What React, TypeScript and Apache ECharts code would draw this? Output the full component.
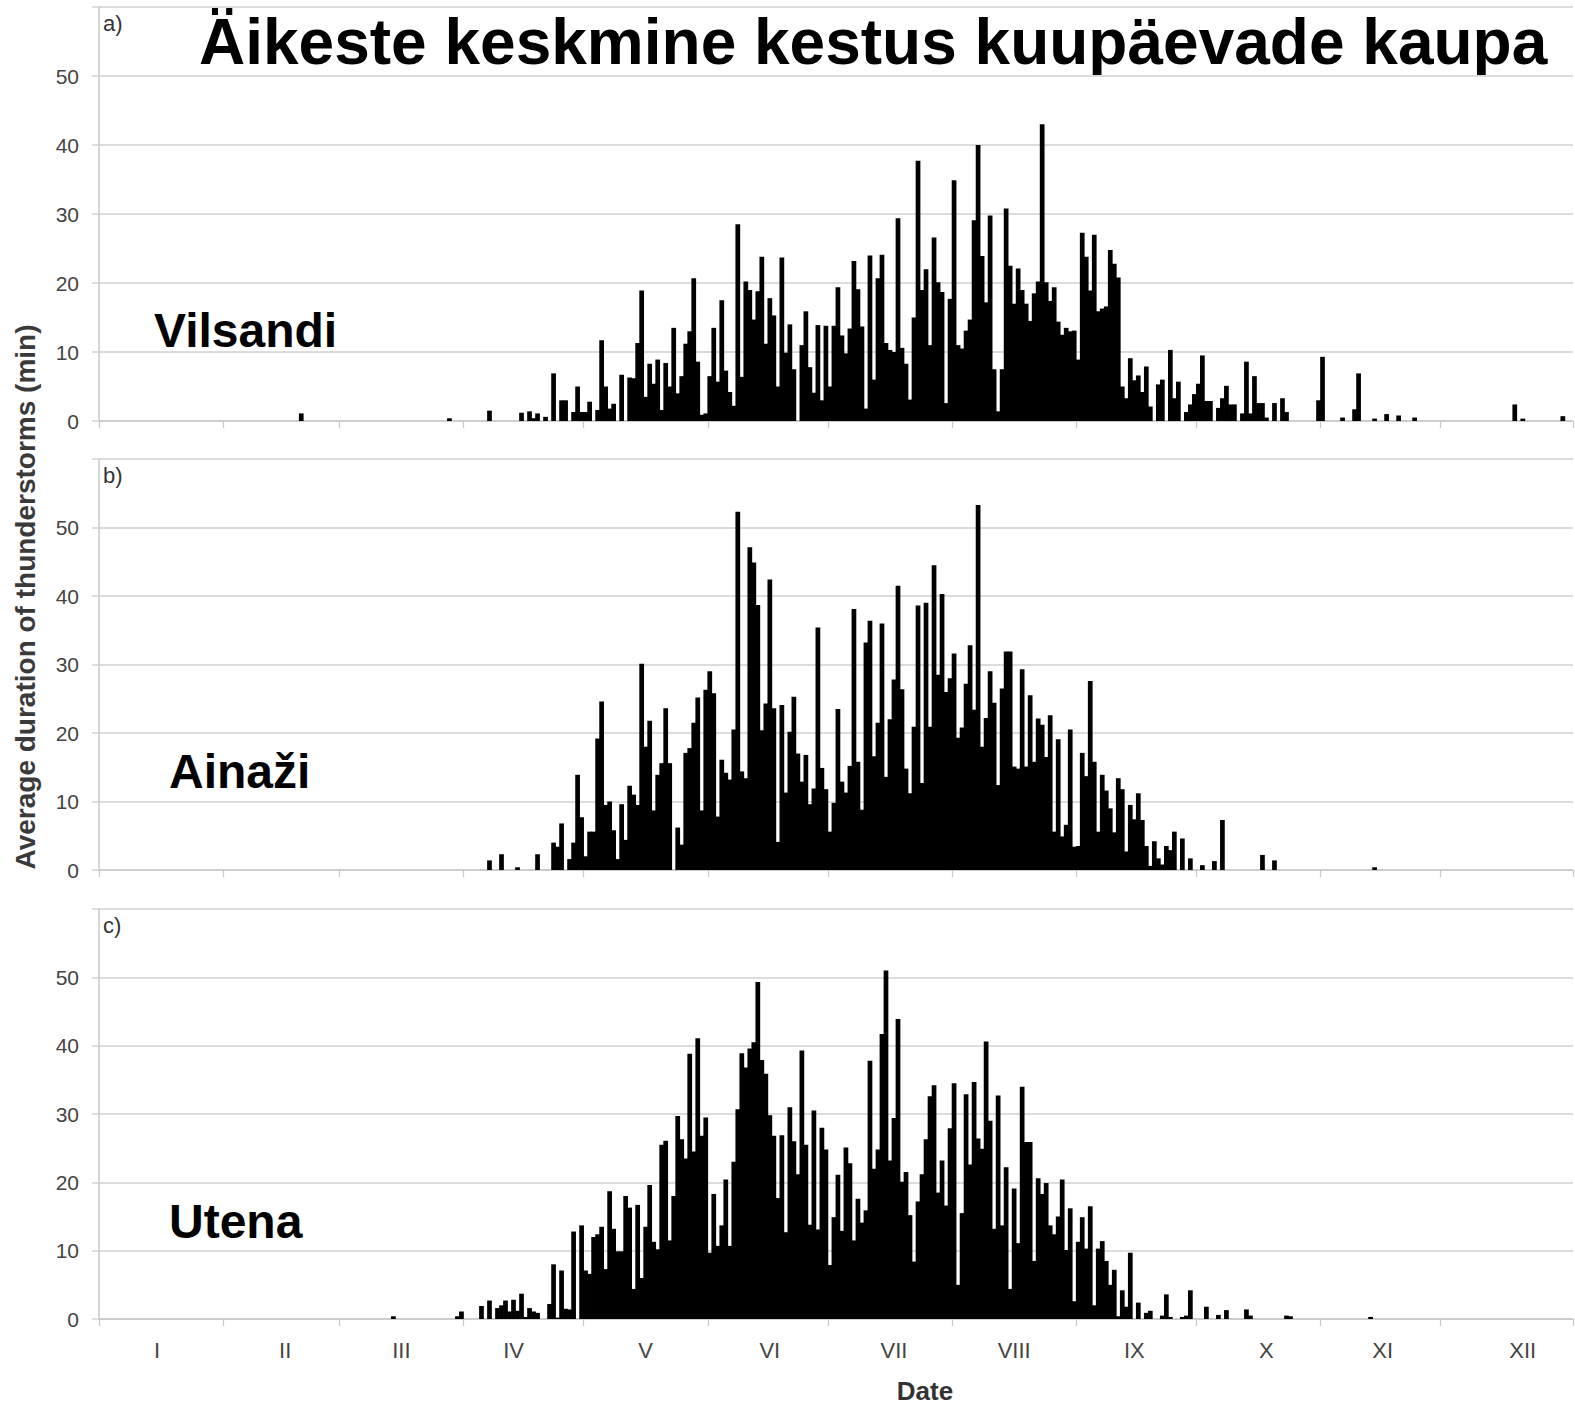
import React, { useEffect, useRef } from 'react';
import * as echarts from 'echarts';

// ---- Data ----
const monthNames = ['I', 'II', 'III', 'IV', 'V', 'VI', 'VII', 'VIII', 'IX', 'X', 'XI', 'XII'];
const monthLengths = [31, 29, 31, 30, 31, 30, 31, 31, 30, 31, 30, 31];
const yTickValues = [0, 10, 20, 30, 40, 50];

const stationNames = ['Vilsandi', 'Ainaži', 'Utena'];
const panelLetters = ['a)', 'b)', 'c)'];

// Vilsandi: contiguous season from day index 105, plus isolated days
const vilsandiSeasonStart = 105;
const vilsandiSeason = [
  1.2, 0, 1.4, 0.4, 1.1, 0, 0.6, 0, 6.9, 0,
  3, 3, 0, 1.3, 5, 1.3, 1.3, 2.8, 0, 1.6,
  11.7, 5, 1.8, 2.5, 0, 6.7, 0, 6.3, 6.2, 11.3,
  18.9, 3.5, 8.3, 5.4, 8.9, 1.6, 8.4, 5, 13.5, 4,
  6.5, 11.2, 13, 20.7, 8.6, 0.9, 1.1, 6.5, 13.5, 5.7,
  17.5, 7.3, 4.2, 2.2, 28.5, 6.4, 20.2, 19, 14.7, 18.8,
  23.8, 11.2, 17.8, 15.3, 5, 23.7, 9.9, 14, 7.5, 0,
  11, 15.9, 7.8, 4.1, 13.9, 3, 13.8, 5, 13.8, 19.4,
  12.4, 9.8, 13.4, 23.2, 19.1, 13.7, 1.8, 24, 6, 20.7,
  24.1, 11.3, 10.3, 10, 29.4, 10.6, 8.3, 3.1, 15, 37.7,
  19, 22, 11, 26.6, 20.1, 18.7, 2.6, 17.7, 34.9, 11,
  10.5, 13.1, 14.7, 29.1, 40, 23.9, 17.2, 29.8, 7.5, 1.4,
  7.5, 30.8, 22.5, 17, 22.1, 19, 17, 14.5, 18.5, 20.2,
  43, 20.1, 17.4, 19.4, 14.4, 12.5, 13.5, 13, 13.1, 8.9,
  27.3, 23.8, 18.9, 27, 15.9, 16.3, 16.6, 24.8, 22.8, 20.8,
  5, 3.3, 9.1, 5.9, 6.6, 4.2, 7.9, 2.1, 0, 5.3,
  6.0, 0, 10.3, 3.3, 5.7, 0, 1.3, 2.4, 3.9, 5.4,
  9.5, 2.9, 2.9, 0, 1.9, 3.3, 5.1, 2.4, 2.4, 0,
  1.1, 8.6, 1.1, 6.5, 2.6, 2.6, 0.5, 0, 2.6, 0,
  3.3, 1.3,
];
const vilsandiIsolated: [number, number][] = [
  [50, 1.1], [87, 0.4], [97, 1.5],
  [304, 3.0], [305, 9.3], [310, 0.5], [313, 1.7], [314, 6.9], [318, 0.35],
  [321, 1.0], [324, 0.8], [328, 0.5], [353, 2.4], [355, 0.35], [365, 0.7],
];

// Ainaži
const ainaziSeasonStart = 113;
const ainaziSeason = [
  4.0, 3.4, 6.8, 0, 1.6, 4.0, 13.9, 7.7, 2.0, 5.6,
  5.6, 19.2, 24.6, 9.5, 10, 5.8, 1.6, 9.6, 4.4, 12.3,
  11, 9.5, 30.1, 18, 21.8, 8.7, 13.9, 15.6, 23.6, 15.6,
  0, 6.2, 3.7, 17.1, 17.8, 21.5, 25.2, 8.7, 26.3, 29,
  25.8, 7.8, 16.1, 14.2, 13.2, 20.5, 52.3, 14.4, 13.4, 47.1,
  44.9, 38.7, 20.4, 24.3, 42.4, 23.6, 4.1, 24.1, 11.3, 20.2,
  25.3, 17, 12.9, 16.8, 9.6, 11.9, 35.4, 14.9, 11.8, 5.6,
  9.8, 23.5, 12.9, 11.3, 15.2, 38.1, 15.8, 8.8, 33.2, 36.4,
  16.6, 21.5, 36, 13.6, 22, 27.8, 41.5, 26.4, 14.8, 11.2,
  20.9, 38.6, 12.7, 39, 20.9, 44.5, 28.5, 40.3, 26, 28,
  31.6, 19.3, 20.8, 27.2, 32.8, 23.4, 53.3, 18, 22.2, 29,
  24.4, 12.4, 26.5, 31.9, 31.9, 15.1, 14.8, 29.3, 15.1, 25.5,
  15.8, 22.1, 21.2, 16.5, 22.6, 5.6, 19.1, 4.9, 6.6, 20.5,
  3.4, 3.5, 17.1, 13.7, 27.6, 15.8, 5.6, 13.9, 11.6, 9,
  5.5, 13.4, 11.8, 2.7, 9.5, 7.4, 11.2, 7.3, 3.5, 0.6,
  4.2, 1.7, 0.8, 3.5, 2.9, 5.6, 0, 4.6, 0, 1.7,
];
const ainaziIsolated: [number, number][] = [
  [97, 1.4], [100, 2.3], [104, 0.4], [109, 2.3],
  [275, 0.7], [278, 1.3], [280, 7.3], [290, 2.2], [293, 1.4], [318, 0.4],
];

// Utena
const utenaSeasonStart = 99;
const utenaSeason = [
  1.6, 2.0, 2.7, 1.1, 2.8, 1.2, 3.7, 0.3, 1.6, 1.1,
  0.9, 0, 0, 2.2, 8.0, 0.2, 7.1, 1.5, 1.4, 12.8,
  0, 13.7, 7.1, 6.6, 12, 12.4, 13.5, 7.3, 18.7, 13.2,
  9.9, 9.9, 18, 16.3, 4.4, 16.7, 6, 13.5, 19.6, 11.3,
  10.2, 25.5, 26.1, 11.5, 18, 29.7, 26.3, 23.5, 38.8, 24.5,
  41.1, 26.8, 29.5, 9.7, 18.3, 10.7, 13.7, 20.4, 10.7, 23,
  30.7, 38.9, 36.8, 39.6, 40.5, 49.3, 37.9, 35.9, 29.8, 26.8,
  17.7, 26.9, 12.7, 31, 26, 21.2, 39.3, 25.5, 13.8, 30.5,
  13.1, 28, 24.8, 7.9, 14.9, 21.1, 12.9, 25.1, 22.8, 11.5,
  17.6, 14.1, 15.9, 37.8, 22, 24.8, 41.7, 51, 23.2, 29.4,
  43.9, 20.1, 21.5, 15.2, 8.4, 17.2, 21.2, 26.3, 32.6, 34.2,
  18.5, 23.2, 16.6, 27.9, 34.5, 5, 15.5, 32.9, 22.6, 34.7,
  26.4, 24.9, 40.6, 29, 13.2, 32.7, 13.7, 22.2, 4.4, 19.1,
  11.1, 34, 25.9, 25.9, 8.5, 20.6, 18.3, 19.9, 13.7, 12.4,
  15, 20.4, 10.1, 16.2, 2.6, 11.3, 14.9, 10.3, 16.5, 2.0,
  10.3, 11.4, 8.5, 5, 7.2, 0.4, 4.2, 1.8, 9.7,
];
const utenaIsolated: [number, number][] = [
  [73, 0.4], [89, 0.4], [90, 1.1], [95, 1.9], [97, 2.7],
  [259, 2.4], [261, 0.9], [262, 1.2], [265, 0.5], [266, 3.6], [267, 0.3],
  [270, 0.3], [271, 0.5], [272, 4.2], [276, 1.8], [279, 0.6], [281, 1.3],
  [286, 1.4], [287, 0.5], [296, 0.5], [297, 0.4], [317, 0.3],
];

// ---- Layout constants ----
const W = 1575;
const H = 1407;
const GRID_LEFT = 99;
const DAY_WIDTH = 4.005;
const AXIS_PAD_DAYS = 2; // empty space after the last day, as in the original plot area
// day within each month where the roman-numeral label sits
const monthLabelOffset = [14, 15, 15, 12, 15, 15, 16, 15, 14, 17, 15, 20];
const panelBoxes = [
  { top: 7, height: 414 },
  { top: 459, height: 411 },
  { top: 909, height: 410 },
];
const stationLabelPos = [
  { x: 154, y: 330 },
  { x: 169, y: 771 },
  { x: 169, y: 1221 },
];
const FONT = '"Liberation Sans", Arial, Helvetica, sans-serif';

// ---- Derived ----
const DAYS = monthLengths.reduce((a, b) => a + b, 0);
const N_CATS = DAYS + AXIS_PAD_DAYS;
const dayCategories = Array.from({ length: N_CATS }, (_, i) => String(i));

function buildDays(start: number, season: number[], isolated: [number, number][]) {
  const arr: number[] = new Array(N_CATS).fill(0);
  season.forEach((v, i) => { arr[start + i] = v; });
  isolated.forEach(([d, v]) => { arr[d] = v; });
  return arr;
}

const stationData = [
  buildDays(vilsandiSeasonStart, vilsandiSeason, vilsandiIsolated),
  buildDays(ainaziSeasonStart, ainaziSeason, ainaziIsolated),
  buildDays(utenaSeasonStart, utenaSeason, utenaIsolated),
];

const monthStarts: number[] = [];
{
  let acc = 0;
  monthLengths.forEach((l) => { monthStarts.push(acc); acc += l; });
}
const monthStartSet = new Set(monthStarts);
const monthMidLabel = new Map<number, string>();
monthStarts.forEach((s, i) => monthMidLabel.set(s + monthLabelOffset[i], monthNames[i]));

export default function App() {
  const ref = useRef<HTMLDivElement>(null);

  useEffect(() => {
    if (!ref.current) return;
    const chart = echarts.init(ref.current, undefined, { renderer: 'svg' });

    const grids = panelBoxes.map((p) => ({
      left: GRID_LEFT, width: DAY_WIDTH * N_CATS, top: p.top, height: p.height, containLabel: false,
    }));

    const xAxes = panelBoxes.map((_, i) => ({
      type: 'category',
      gridIndex: i,
      data: dayCategories,
      boundaryGap: true,
      axisLine: { show: true, lineStyle: { color: '#c8c8c8', width: 1.5 } },
      axisTick: {
        show: true,
        interval: (idx: number) => monthStartSet.has(idx),
        length: 7,
        lineStyle: { color: '#c8c8c8', width: 1.2 },
      },
      axisLabel: {
        show: i === 2,
        interval: (idx: number) => monthMidLabel.has(idx),
        formatter: (v: string) => monthMidLabel.get(Number(v)) ?? '',
        fontSize: 22,
        color: '#444',
        fontFamily: FONT,
        margin: 20,
      },
      splitLine: { show: false },
    }));

    const yAxes = panelBoxes.map((_, i) => ({
      type: 'value',
      gridIndex: i,
      min: 0,
      max: 60,
      interval: 10,
      axisLine: { show: true, lineStyle: { color: '#c8c8c8', width: 1.5 } },
      axisTick: { show: true, length: 7, lineStyle: { color: '#d4d4d4', width: 1.5 } },
      axisLabel: {
        formatter: (v: number) => (yTickValues.includes(v) ? String(v) : ''),
        fontSize: 21,
        color: '#444',
        fontFamily: FONT,
        margin: 20,
      },
      splitLine: { show: true, lineStyle: { color: '#dcdcdc', width: 2 } },
    }));

    const series = stationData.map((d, i) => ({
      type: 'bar',
      xAxisIndex: i,
      yAxisIndex: i,
      data: d,
      barWidth: '118%',
      itemStyle: { color: '#000' },
      silent: true,
    }));

    const graphic: any[] = [
      {
        type: 'text', left: 199, top: 10,
        style: { text: 'Äikeste keskmine kestus kuupäevade kaupa', font: `bold 64px ${FONT}`, fill: '#000' },
      },
      {
        type: 'text', x: 25, y: 597, rotation: Math.PI / 2,
        style: {
          text: 'Average duration of thunderstorms (min)', font: `bold 28px ${FONT}`, fill: '#3a3a3a',
          textAlign: 'center', textVerticalAlign: 'middle',
        },
      },
      {
        type: 'text', x: 925, y: 1391,
        style: { text: 'Date', font: `bold 26px ${FONT}`, fill: '#333', textAlign: 'center', textVerticalAlign: 'middle' },
      },
    ];
    panelBoxes.forEach((p, i) => {
      graphic.push({
        type: 'text', x: 103, y: p.top + 16,
        style: { text: panelLetters[i], font: `22px ${FONT}`, fill: '#333', textVerticalAlign: 'middle' },
      });
      graphic.push({
        type: 'text', x: stationLabelPos[i].x, y: stationLabelPos[i].y,
        style: { text: stationNames[i], font: `bold 48px ${FONT}`, fill: '#000', textVerticalAlign: 'middle' },
      });
    });

    chart.setOption({
      animation: false,
      backgroundColor: '#fff',
      grid: grids,
      xAxis: xAxes,
      yAxis: yAxes,
      series,
      graphic,
    });

    return () => chart.dispose();
  }, []);

  return <div ref={ref} style={{ position: 'absolute', left: 0, top: 0, width: W, height: H }} />;
}
